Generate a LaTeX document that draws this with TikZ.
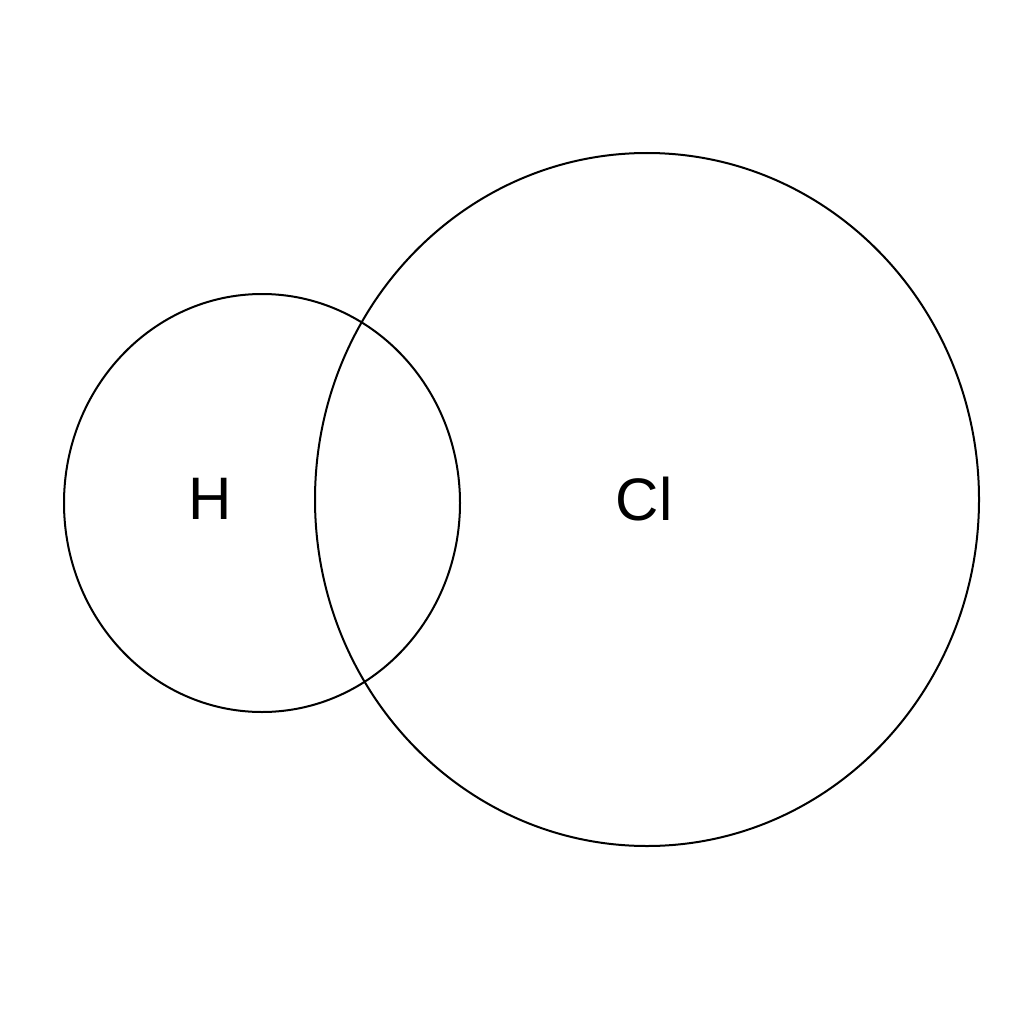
\documentclass[tikz,border=0pt]{standalone}
\usepackage{fontspec}
\setmainfont{Liberation Sans}
\begin{document}
\begin{tikzpicture}[x=1pt,y=-1pt,
  atom/.style={draw=black,line width=2pt},
  lbl/.style={font=\fontsize{60}{60}\selectfont,inner sep=0pt}]
\useasboundingbox[fill=white] (0,0) rectangle (1024,1024);
\draw[atom] (262,503) ellipse [x radius=198, y radius=209];
\draw[atom] (647,499.5) ellipse [x radius=332, y radius=346.5];
\node[lbl] (h) at (210,499) {H};
\node[lbl] (cl) at (644,499) {Cl};
\end{tikzpicture}
\end{document}
